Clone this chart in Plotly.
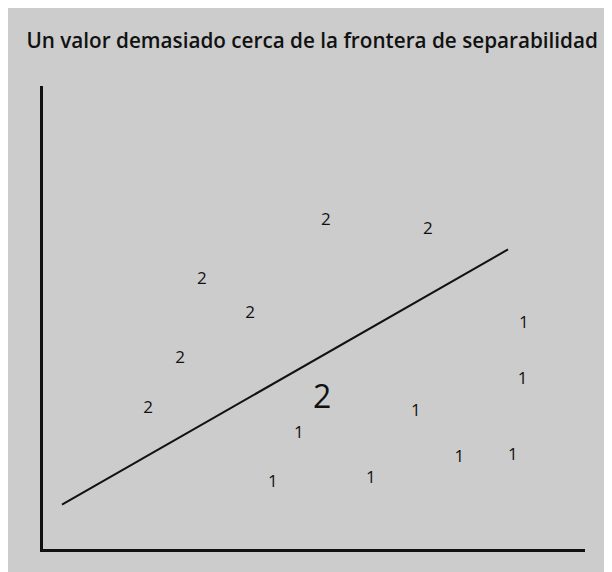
import plotly.graph_objects as go

# points (axis units: origin at the corner, 0..10 on each axis)
class2_x = [5.22, 7.10, 2.93, 3.82, 2.53, 1.94]
class2_y = [7.10, 6.90, 5.82, 5.09, 4.10, 3.04]
class1_x = [8.87, 8.85, 6.88, 4.72, 7.68, 8.67, 4.24, 6.05]
class1_y = [4.86, 3.65, 2.96, 2.50, 1.97, 2.01, 1.44, 1.52]
# the doubtful value, right next to the boundary
near_x = [5.15]
near_y = [3.22]
near_label = ["2"]
# separating line end points
border_x = [0.35, 8.58]
border_y = [0.96, 6.47]

TITLE = "Un valor demasiado cerca de la frontera de separabilidad"
FONT = "Open Sans"
GRAY = "#cccccc"
INK = "#111111"

fig = go.Figure()

fig.add_trace(go.Scatter(x=border_x, y=border_y, mode="lines",
                         line=dict(color=INK, width=2), hoverinfo="skip"))
fig.add_trace(go.Scatter(x=class2_x, y=class2_y, mode="text", text=["2"] * len(class2_x),
                         textposition="middle center",
                         textfont=dict(family=FONT, size=17, color=INK)))
fig.add_trace(go.Scatter(x=class1_x, y=class1_y, mode="text", text=["1"] * len(class1_x),
                         textposition="middle center",
                         textfont=dict(family=FONT, size=17, color=INK)))
fig.add_trace(go.Scatter(x=near_x, y=near_y, mode="text", text=near_label,
                         textposition="middle center",
                         textfont=dict(family=FONT, size=32, color=INK)))

axis = dict(range=[0, 10], showgrid=False, zeroline=False, showticklabels=False,
            ticks="", showline=True, linecolor=INK, linewidth=2.5, mirror=False)
fig.update_xaxes(**axis)
fig.update_yaxes(**axis)

fig.update_layout(
    width=612, height=572,
    margin=dict(l=35, r=35, t=78, b=31),
    paper_bgcolor=GRAY, plot_bgcolor=GRAY,
    showlegend=False,
    title=dict(text=TITLE, x=0.497, xref="container", xanchor="center",
               y=1 - 33 / 572, yref="container", yanchor="middle",
               font=dict(family=FONT, size=20.7, color=INK, weight=600)),
)

fig.write_html("out.html")
